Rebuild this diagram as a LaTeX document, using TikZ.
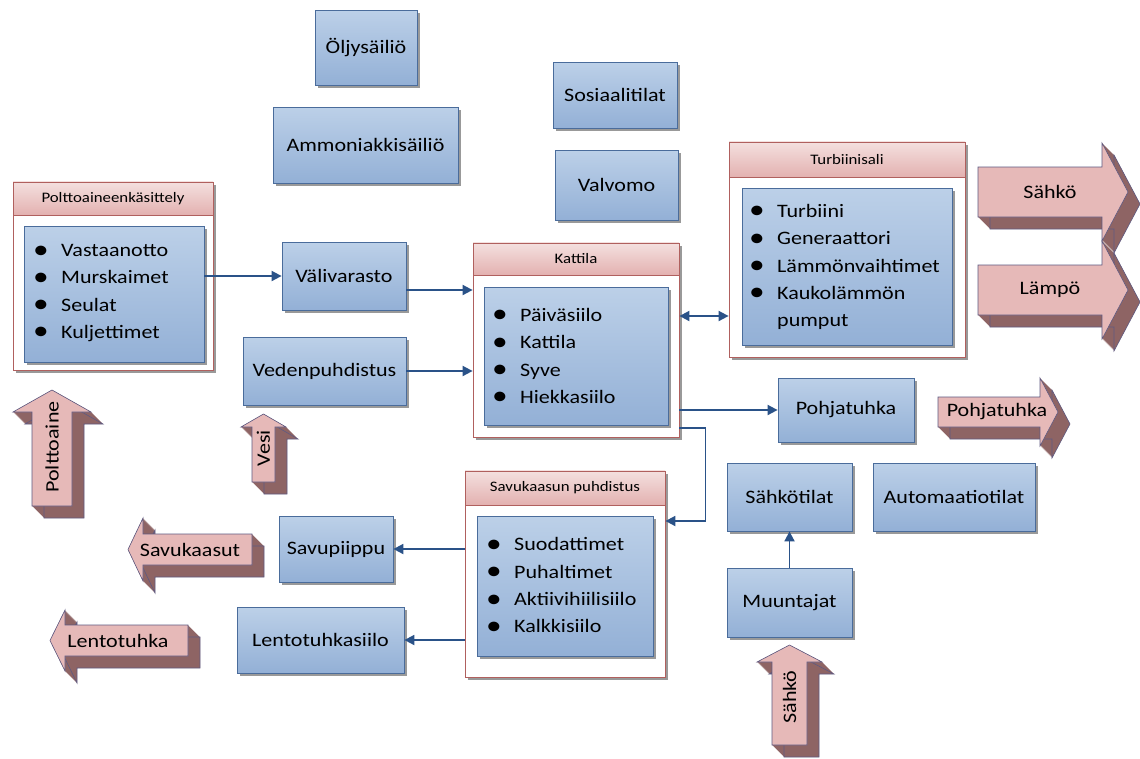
\documentclass[tikz,border=0pt]{standalone}
\usepackage{fontspec}
\setmainfont{Carlito}[FakeStretch=1.16]
\usetikzlibrary{arrows.meta,shadows}
\definecolor{blueTop}{HTML}{BCD0E8}
\definecolor{blueBot}{HTML}{93B0D6}
\definecolor{boxline}{HTML}{4A6C9B}
\definecolor{frameline}{HTML}{B0605E}
\definecolor{hdrTop}{HTML}{F4E0DF}
\definecolor{hdrBot}{HTML}{E3B1B0}
\definecolor{connc}{HTML}{2A5288}
\definecolor{pinkfront}{HTML}{E6B9B8}
\definecolor{brownside}{HTML}{8E6464}
\definecolor{arrowline}{HTML}{5E5A82}
\newcommand\bodyfont{\fontsize{19}{27.3}\selectfont}
\newcommand\hdrfont{\fontsize{14.5}{17}\selectfont}
\newcommand\bul{\makebox[28pt][l]{\raisebox{-1.5pt}{\fontsize{27}{27}\selectfont •}}}
\newcommand\tdarrow[1]{%
  \foreach \s in {0,0.5,...,12} {\fill[brownside, shift={(\s,\s)}] #1;}
  \draw[arrowline, line width=0.6pt, shift={(12,12)}] #1;
  \filldraw[fill=pinkfront, draw=arrowline, line width=0.6pt] #1;
}
\tikzset{
  shd/.style={drop shadow={shadow xshift=2.5pt, shadow yshift=-2.5pt, opacity=0.4, fill=black}},
  bluebox/.style={draw=boxline, line width=0.8pt, top color=blueTop, bottom color=blueBot, shd, font=\bodyfont, text=black, inner sep=0pt},
  frame/.style={draw=frameline, line width=0.8pt, fill=white, shd, inner sep=0pt},
  header/.style={draw=frameline, line width=0.6pt, top color=hdrTop, bottom color=hdrBot, font=\hdrfont, inner sep=0pt, anchor=north},
  listtext/.style={font=\bodyfont, align=left, anchor=west, inner sep=0pt, text=black},
  arrtext/.style={font=\bodyfont, inner sep=0pt, text=black},
  conn/.style={draw=connc, line width=1.8pt, -{Triangle[length=10pt,width=10pt]}},
  dconn/.style={draw=connc, line width=1.8pt, {Triangle[length=10pt,width=10pt]}-{Triangle[length=10pt,width=10pt]}}
}
\begin{document}
\begin{tikzpicture}[x=1pt,y=-1pt]
\useasboundingbox[fill=white] (0,0) rectangle (1140,758);

% simple boxes
\node[bluebox, minimum width=102pt, minimum height=75pt] (oljy) at (366,47.5) {Öljysäiliö};
\node[bluebox, minimum width=185pt, minimum height=76pt] (ammon) at (365.5,145) {Ammoniakkisäiliö};
\node[bluebox, minimum width=124pt, minimum height=66pt] (sosi) at (615,95) {Sosiaalitilat};
\node[bluebox, minimum width=123pt, minimum height=70pt] (valv) at (616.5,185) {Valvomo};
\node[bluebox, minimum width=124pt, minimum height=68pt] (vali) at (344,276) {Välivarasto};
\node[bluebox, minimum width=163pt, minimum height=68pt] (veden) at (324.5,371) {Vedenpuhdistus};
\node[bluebox, minimum width=136pt, minimum height=64pt] (pohjabox) at (846,410) {Pohjatuhka};
\node[bluebox, minimum width=125pt, minimum height=68pt] (sahkot) at (789.5,497) {Sähkötilat};
\node[bluebox, minimum width=162pt, minimum height=68pt] (auto) at (954,497) {Automaatiotilat};
\node[bluebox, minimum width=125pt, minimum height=69pt] (muunt) at (789.5,602.5) {Muuntajat};
\node[bluebox, minimum width=114pt, minimum height=66pt] (savup) at (336,549) {Savupiippu};
\node[bluebox, minimum width=167pt, minimum height=66pt] (lento) at (320.5,640) {Lentotuhkasiilo};

% Polttoaineenkasittely
\node[frame, minimum width=200pt, minimum height=188pt] (pouter) at (113,276) {};
\node[header, minimum width=200pt, minimum height=33pt] (phead) at (pouter.north) {Polttoaineenkäsittely};
\node[bluebox, minimum width=180pt, minimum height=136pt] (pinner) at (114,294) {};
\node[listtext] (plist) at (33,293) {\bul Vastaanotto\\\bul Murskaimet\\\bul Seulat\\\bul Kuljettimet};

% Kattila
\node[frame, minimum width=206pt, minimum height=194pt] (kouter) at (576,340) {};
\node[header, minimum width=206pt, minimum height=32pt] (khead) at (kouter.north) {Kattila};
\node[bluebox, minimum width=184pt, minimum height=138pt] (kinner) at (576,356) {};
\node[listtext] (klist) at (492,356.5) {\bul Päiväsiilo\\\bul Kattila\\\bul Syve\\\bul Hiekkasiilo};

% Turbiinisali
\node[frame, minimum width=236pt, minimum height=215pt] (touter) at (847,249.5) {};
\node[header, minimum width=236pt, minimum height=35pt] (thead) at (touter.north) {Turbiinisali};
\node[bluebox, minimum width=210pt, minimum height=157pt] (tinner) at (847,266.5) {};
\node[listtext] (tlist) at (749,267) {\bul Turbiini\\\bul Generaattori\\\bul Lämmönvaihtimet\\\bul Kaukolämmön\\\hspace*{28pt}pumput};

% Savukaasun puhdistus
\node[frame, minimum width=200pt, minimum height=206pt] (souter) at (565,574) {};
\node[header, minimum width=200pt, minimum height=34pt] (shead) at (souter.north) {Savukaasun puhdistus};
\node[bluebox, minimum width=176pt, minimum height=140pt] (sinner) at (565,586) {};
\node[listtext] (slist) at (486,586) {\bul Suodattimet\\\bul Puhaltimet\\\bul Aktiivihiilisiilo\\\bul Kalkkisiilo};

% connectors
\draw[conn] (vali -| pinner.east) -- (vali.west);
\draw[conn] ([yshift=-14pt]vali.east) -- ([yshift=-14pt]vali.east -| kouter.west);
\draw[conn] (veden.east) -- (veden.east -| kouter.west);
\draw[dconn] ([yshift=24pt]kouter.east) -- ([yshift=24pt]kouter.east -| touter.west);
\draw[conn] (pohjabox -| kouter.east) -- (pohjabox.west);
\draw[conn] ([yshift=-88pt]kouter.east) -- ++(26,0) |- ([yshift=53pt]souter.east);
\draw[conn] (savup -| souter.west) -- (savup.east);
\draw[conn] (lento -| souter.west) -- (lento.east);
\draw[conn] (muunt.north) -- (sahkot.south);

% 3D arrows
\tdarrow{(978,265)--(1102,265)--(1102,241)--(1128,290)--(1102,339)--(1102,315)--(978,315)--cycle}
\tdarrow{(978,167)--(1102,167)--(1102,143)--(1128,192)--(1102,241)--(1102,217)--(978,217)--cycle}
\tdarrow{(938,397)--(1040,397)--(1040,378)--(1058,412)--(1040,446)--(1040,427)--(938,427)--cycle}
\tdarrow{(32,506)--(32,412)--(13,412)--(52,390)--(91,412)--(72,412)--(72,506)--cycle}
\tdarrow{(252,482)--(252,427)--(241,427)--(263.5,414)--(286,427)--(275,427)--(275,482)--cycle}
\tdarrow{(772,745)--(772,662)--(757,662)--(789.5,645)--(822,662)--(807,662)--(807,745)--cycle}
\tdarrow{(252,534)--(143,534)--(143,518)--(128,549.5)--(143,581)--(143,565)--(252,565)--cycle}
\tdarrow{(188,625)--(65,625)--(65,610)--(50,640.5)--(65,671)--(65,656)--(188,656)--cycle}

\node[arrtext] (tsahko) at (1050,192) {Sähkö};
\node[arrtext] (tlampo) at (1050,290) {Lämpö};
\node[arrtext] (tpohja) at (997,412) {Pohjatuhka};
\node[arrtext, rotate=90] (tpolt) at (52,447) {Polttoaine};
\node[arrtext, rotate=90] (tvesi) at (263.5,448) {Vesi};
\node[arrtext, rotate=90] (tsahko2) at (789.5,697) {Sähkö};
\node[arrtext] (tsavu) at (190,549.5) {Savukaasut};
\node[arrtext] (tlentot) at (118,640.5) {Lentotuhka};
\end{tikzpicture}
\end{document}
